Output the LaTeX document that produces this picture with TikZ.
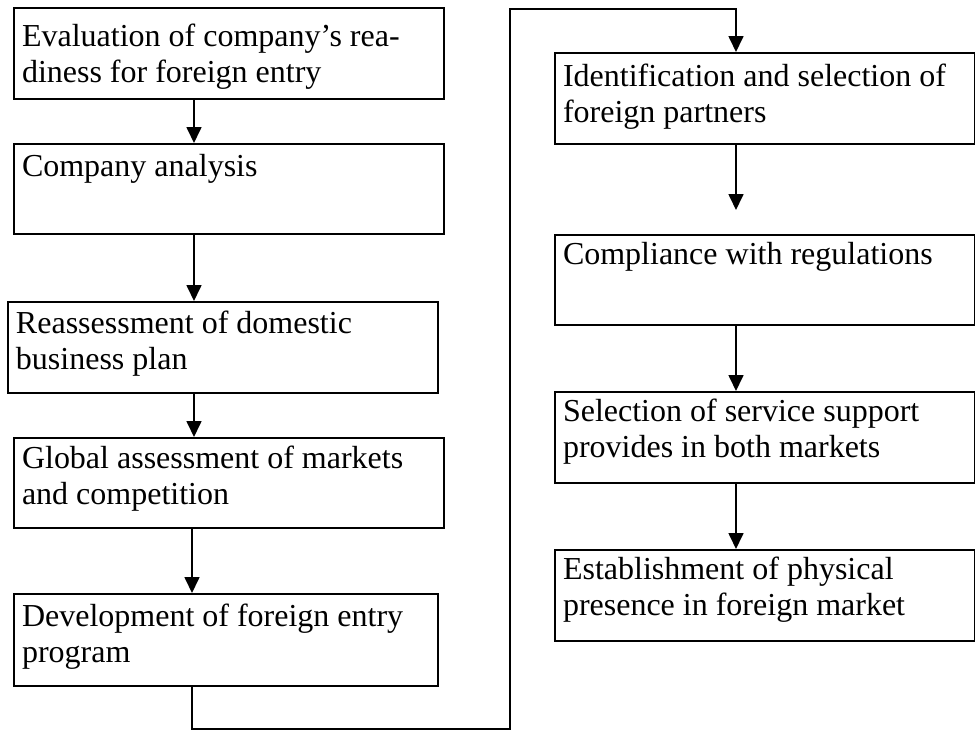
\documentclass[tikz,border=0pt]{standalone}
\usepackage{fontspec}
\setmainfont{Liberation Serif}
\usetikzlibrary{arrows.meta}

\begin{document}
\begin{tikzpicture}[x=1pt, y=-1pt,
  box/.style={draw, line width=2pt, rectangle, anchor=north west,
    inner xsep=8pt, inner ysep=0pt,
    font=\fontsize{32}{36}\selectfont},
  arr/.style={line width=1.7pt, -{Triangle[length=16pt, width=15pt]}}]

  \useasboundingbox (0,0) rectangle (975,731);

  % left column
  \node[box, minimum width=430pt, text height=38pt, text depth=53pt] (b1) at (13,7)
    {\parbox[t]{414pt}{\raggedright Evaluation of company’s rea-\\diness for foreign entry}};
  \node[box, minimum width=430pt, text height=32pt, text depth=58pt] (b2) at (13,143)
    {\parbox[t]{414pt}{\raggedright Company analysis}};
  \node[box, minimum width=430pt, text height=31pt, text depth=60pt] (b3) at (7,301)
    {\parbox[t]{414pt}{\raggedright Reassessment of domestic\\business plan}};
  \node[box, minimum width=430pt, text height=30pt, text depth=60pt] (b4) at (13,437)
    {\parbox[t]{414pt}{\raggedright Global assessment of markets\\and competition}};
  \node[box, minimum width=424pt, text height=32pt, text depth=60pt] (b5) at (13,593)
    {\parbox[t]{408pt}{\raggedright Development of foreign entry\\program}};

  % right column
  \node[box, minimum width=420pt, text height=33pt, text depth=58pt] (b6) at (554,52)
    {\parbox[t]{404pt}{\raggedright Identification and selection of\\foreign partners}};
  \node[box, minimum width=420pt, text height=29pt, text depth=61pt] (b7) at (554,234)
    {\parbox[t]{404pt}{\raggedright Compliance with regulations}};
  \node[box, minimum width=420pt, text height=29pt, text depth=62pt] (b8) at (554,391)
    {\parbox[t]{404pt}{\raggedright Selection of service support\\provides in both markets}};
  \node[box, minimum width=420pt, text height=29pt, text depth=62pt] (b9) at (554,549)
    {\parbox[t]{404pt}{\raggedright Establishment of physical\\presence in foreign market}};

  % column axes for the connectors
  \coordinate (la) at (194,0);
  \coordinate (lb) at (192,0);
  \coordinate (ra) at (736,0);

  % left column arrows
  \draw[arr] (b1.south -| la) -- (b2.north -| la);
  \draw[arr] (b2.south -| la) -- (b3.north -| la);
  \draw[arr] (b3.south -| la) -- (b4.north -| la);
  \draw[arr] (b4.south -| lb) -- (b5.north -| lb);

  % crossover from the left column to the right column
  \coordinate (c1) at (192,729);
  \coordinate (c2) at (510,729);
  \coordinate (c3) at (510,9);
  \coordinate (c4) at (736,9);
  \draw[arr, line join=miter] (b5.south -| c1) -- (c1) -- (c2) -- (c3) -- (c4) -- (b6.north -| c4);

  % right column arrows
  \coordinate (e6) at (736,210);
  \draw[arr] (b6.south -| ra) -- (e6);
  \draw[arr] (b7.south -| ra) -- (b8.north -| ra);
  \draw[arr] (b8.south -| ra) -- (b9.north -| ra);
\end{tikzpicture}
\end{document}
